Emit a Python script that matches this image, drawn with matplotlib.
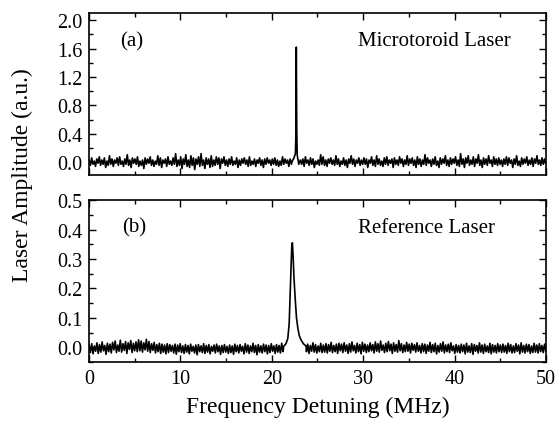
import numpy as np
import matplotlib
matplotlib.use("Agg")
import matplotlib.pyplot as plt
from matplotlib.ticker import MultipleLocator

plt.rcParams['font.family'] = ['Liberation Serif', 'DejaVu Serif']

# (a) microtoroid laser: noise floor, read in units of 0.015
top_noise = [
    2, -3, 4, -2, 1, -4, 3, -1, 5, -3, 2, -2, 4, -5, 1, -3, 6, -2, 3, -4, 2, -1, 4, -3, 5, -2, 1, -4, 3, -2, 7, -3, 2, -5, 4, -1,
    3, -2, 5, -4, 1, -3, 2, -6, 4, -2, 3, -1, 5, -3, 2, -4, 1, -2, 6, -3, 4, -5, 2, -1, 3, -4, 5, -2, 1, -3, 4, -2, 8, -4, 2, -3,
    5, -6, 3, -2, 7, -4, 2, -5, 6, -3, 4, -7, 3, -2, 5, -4, 8, -3, 2, -6, 4, -2, 3, -5, 6, -4, 2, -3, 5, -2, 4, -6, 3, -1, 5, -3,
    2, -4, 3, -2, 5, -3, 1, -2, 4, -5, 2, -3, 3, -1, 4, -2, 2, -4, 5, -3, 1, -2, 3, -4, 2, -1, 4, -3, 2, -5, 3, -2, 4, -1, 2, -3,
    3, -2, 4, -3, 2, -4, 1, -3, 5, -2, 3, -1, 2, -4, 3, -2, 6, -3, 2, -1, 4, -3, 2, -2, 3, -4, 5, -1, 2, -3, 4, -2, 3, -5, 1, -2,
    2, -3, 7, -2, 5, -3, 2, -4, 3, -1, 4, -2, 2, -3, 6, -2, 3, -4, 1, -2, 4, -3, 2, -5, 3, -1, 6, -2, 3, -4, 2, -1, 4, -3, 2, -2,
    4, -2, 3, -5, 2, -1, 5, -3, 2, -4, 6, -2, 3, -3, 1, -4, 4, -2, 5, -3, 2, -1, 3, -5, 4, -2, 2, -3, 5, -1, 3, -4, 2, -2, 6, -3,
    3, -1, 4, -3, 2, -5, 5, -2, 3, -4, 2, -2, 7, -3, 4, -1, 2, -4, 3, -2, 5, -3, 1, -5, 4, -2, 3, -1, 6, -3, 2, -4, 4, -2, 3, -1,
    5, -3, 2, -4, 8, -2, 3, -5, 4, -1, 6, -3, 2, -2, 5, -4, 3, -1, 7, -3, 2, -5, 4, -2, 3, -3, 6, -1, 2, -4, 5, -2, 3, -3, 4, -2,
    2, -4, 3, -2, 5, -3, 4, -1, 2, -5, 3, -2, 6, -3, 1, -4, 4, -2, 3, -1, 5, -3, 2, -2, 4, -4, 3, -1, 6, -2, 2, -3, 4, -2, 3, -1,
]
top_unit = 0.015
top_peak_x = [22.25, 22.4, 22.5, 22.58, 22.63, 22.68, 22.73, 22.78, 22.85, 22.95, 23.1]
top_peak_y = [0.02, 0.05, 0.09, 0.12, 0.35, 1.62, 0.45, 0.10, 0.05, -0.03, 0.02]

# (b) reference laser: noise floor, read in units of 0.0015
bot_noise = [
    5, -12, 8, -15, 3, -9, 10, -14, 6, -11, 12, -8, 4, -16, 9, -10, 7, -13, 11, -6, 14, -12, 5, -9, 16, -11, 8, -7, 13, -14, 10, -5, 15, -12, 9, -8,
    12, -10, 17, -8, 14, -11, 10, -6, 18, -9, 13, -12, 8, -7, 11, -13, 6, -10, 9, -14, 7, -11, 5, -15, 8, -12, 6, -9, 4, -13, 7, -16, 5, -10, 8, -12,
    3, -14, 6, -11, 4, -15, 7, -9, 2, -13, 5, -17, 6, -10, 3, -12, 8, -14, 4, -11, 6, -15, 2, -9, 5, -13, 7, -10, 3, -16, 4, -12, 6, -11, 2, -14,
    5, -12, 3, -16, 7, -10, 4, -13, 6, -9, 2, -15, 8, -11, 5, -14, 3, -10, 9, -12, 4, -17, 6, -11, 3, -13, 7, -10, 5, -15, 4, -12, 8, -9, 3, -14,
    6, -11, 4, -13, 9, -10, 5, -16, 7, -12, 3, -11, 8, -14, 4, -10, 6, -13, 5, -9, 8, -12, 5, -10, 7, -14, 4, -9, 10, -11, 6, -13, 3, -10, 9, -12,
    5, -11, 8, -13, 6, -9, 11, -12, 4, -10, 7, -14, 9, -8, 7, -12, 10, -9, 5, -14, 8, -11, 12, -8, 4, -13, 9, -10, 6, -15, 11, -9, 7, -12, 5, -10,
    10, -8, 6, -13, 12, -9, 8, -11, 14, -7, 5, -12, 9, -10, 13, -8, 7, -14, 10, -9, 6, -11, 15, -8, 8, -12, 5, -10, 11, -9, 7, -13, 9, -7,
    6, -11, 10, -9, 4, -13, 8, -10, 7, -14, 5, -9, 11, -12, 6, -10, 9, -15, 4, -11, 8, -9, 12, -13, 5, -10, 7, -12, 10, -8, 3, -14, 6, -11,
    4, -13, 7, -10, 5, -15, 9, -11, 3, -12, 8, -16, 6, -9, 4, -13, 10, -11, 5, -14, 7, -10, 3, -12, 9, -15, 6, -11, 4, -13, 8, -10, 5, -12,
    7, -11, 4, -14, 9, -10, 6, -13, 3, -12, 8, -9, 5, -15, 10, -11, 4, -13, 7, -10, 6, -14, 3, -12, 9, -11, 5, -13, 8, -10, 4, -12, 7, -9,
]
bot_unit = 0.0015
bot_peak_x = [21.3, 21.55, 21.75, 21.9, 22.0, 22.1, 22.18, 22.25, 22.33, 22.42, 22.55, 22.7, 22.85, 23.0, 23.2, 23.45, 23.75]
bot_peak_y = [0.003, 0.012, 0.03, 0.08, 0.17, 0.27, 0.34, 0.355, 0.31, 0.24, 0.17, 0.10, 0.065, 0.04, 0.025, 0.012, 0.004]

x_ticks = [0, 10, 20, 30, 40, 50]
top_yticks = [0.0, 0.4, 0.8, 1.2, 1.6, 2.0]
bot_yticks = [0.0, 0.1, 0.2, 0.3, 0.4, 0.5]


def build_trace(noise, unit, peak_x, peak_y):
    # noise samples are evenly spaced over 0-50 MHz, the peak is spliced in
    x_grid = np.linspace(0, 50, len(noise))
    y = np.array(noise) * unit
    keep_left = x_grid < peak_x[0]
    keep_right = x_grid > peak_x[-1]
    xs = np.concatenate([x_grid[keep_left], peak_x, x_grid[keep_right]])
    ys = np.concatenate([y[keep_left], peak_y, y[keep_right]])
    return xs, ys


def style_axes(ax, major, minor):
    ax.set_xlim(0, 50)
    ax.xaxis.set_major_locator(MultipleLocator(10))
    ax.xaxis.set_minor_locator(MultipleLocator(5))
    ax.yaxis.set_major_locator(MultipleLocator(major))
    ax.yaxis.set_minor_locator(MultipleLocator(minor))
    ax.tick_params(which='both', direction='in', top=True, right=True,
                   labelsize=14.5, width=1, pad=5)
    ax.tick_params(which='major', length=5)
    ax.tick_params(which='minor', length=3)
    for s in ax.spines.values():
        s.set_linewidth(1.2)


fig = plt.figure(figsize=(5.57, 4.27), dpi=100)
ax_a = fig.add_axes([0.160, 0.588, 0.820, 0.379])
ax_b = fig.add_axes([0.160, 0.150, 0.820, 0.379])

xa, ya = build_trace(top_noise, top_unit, top_peak_x, top_peak_y)
ax_a.plot(xa, ya, color='black', lw=1.2)
style_axes(ax_a, 0.4, 0.2)
ax_a.set_ylim(-0.18, 2.1)
ax_a.set_yticks(top_yticks)
ax_a.set_yticklabels([f"{v:.1f}" for v in top_yticks])
ax_a.set_xticklabels([])
ax_a.text(0.068, 0.83, "(a)", transform=ax_a.transAxes, fontsize=15, va='center')
ax_a.text(0.589, 0.83, "Microtoroid Laser", transform=ax_a.transAxes, fontsize=15, va='center')

xb, yb = build_trace(bot_noise, bot_unit, bot_peak_x, bot_peak_y)
ax_b.plot(xb, yb, color='black', lw=1.2)
style_axes(ax_b, 0.1, 0.05)
ax_b.set_ylim(-0.05, 0.5)
ax_b.set_yticks(bot_yticks)
ax_b.set_yticklabels([f"{v:.1f}" for v in bot_yticks])
ax_b.set_xticks(x_ticks)
ax_b.set_xticklabels([str(v) for v in x_ticks])
ax_b.text(0.072, 0.833, "(b)", transform=ax_b.transAxes, fontsize=15, va='center')
ax_b.text(0.589, 0.833, "Reference Laser", transform=ax_b.transAxes, fontsize=15, va='center')

ax_b.set_xlabel("Frequency Detuning (MHz)", fontsize=17, labelpad=6)
fig.text(0.040, 0.59, "Laser Amplitude (a.u.)", rotation=90, fontsize=17,
         ha='center', va='center')

fig.savefig("out.png", dpi=100)
